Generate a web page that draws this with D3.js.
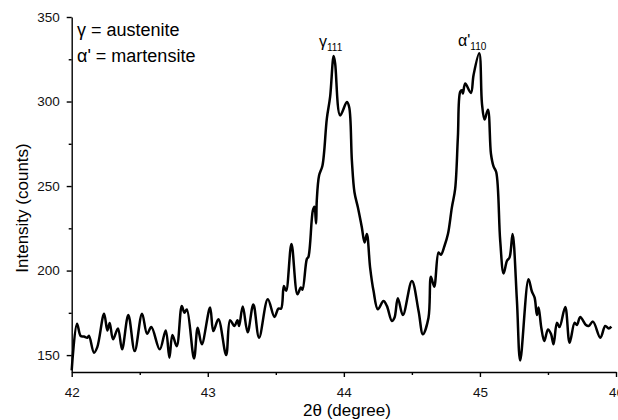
<!DOCTYPE html>
<html>
<head>
<meta charset="utf-8">
<script src="https://cdn.jsdelivr.net/npm/d3@7"></script>
<style>
  body { margin: 0; background: #fff; }
  svg { font-family: "Liberation Sans", Arial, sans-serif; }
  .axis path, .axis line { stroke: #000; stroke-width: 1.4px; }
  .axis text { font-size: 13.5px; fill: #111; }
</style>
</head>
<body>
<svg id="svg1" width="618" height="420"></svg>
<script>
// 2theta positions (degree)
var twoTheta = [
  42.000, 42.039, 42.066, 42.090, 42.115, 42.127, 42.164, 42.188, 42.238, 42.262,
  42.279, 42.304, 42.340, 42.370, 42.416, 42.463, 42.517, 42.554, 42.585, 42.647,
  42.691, 42.718, 42.740, 42.772, 42.809, 42.828, 42.846, 42.899, 42.926, 42.956,
  43.017, 43.041, 43.078, 43.135, 43.164, 43.196, 43.218, 43.230, 43.257, 43.293,
  43.335, 43.377, 43.441, 43.490, 43.519, 43.539, 43.559, 43.576, 43.615, 43.659,
  43.684, 43.696, 43.728, 43.740, 43.772, 43.784, 43.796, 43.801, 43.818, 43.843,
  43.875, 43.899, 43.925, 43.936, 43.973, 44.022, 44.039, 44.059, 44.078, 44.103,
  44.132, 44.152, 44.169, 44.193, 44.218, 44.250, 44.291, 44.316, 44.353, 44.372,
  44.397, 44.434, 44.500, 44.549, 44.581, 44.622, 44.640, 44.664, 44.696, 44.713,
  44.740, 44.765, 44.794, 44.818, 44.838, 44.855, 44.868, 44.875, 44.892, 44.934,
  44.953, 44.995, 45.015, 45.034, 45.059, 45.081, 45.100, 45.120, 45.149, 45.174,
  45.199, 45.218, 45.240, 45.272, 45.296, 45.357, 45.382, 45.402, 45.419, 45.431,
  45.451, 45.473, 45.500, 45.522, 45.541, 45.566, 45.585, 45.627, 45.659, 45.696,
  45.713, 45.737, 45.779, 45.799, 45.831, 45.885, 45.921, 45.946, 45.966
];

// intensity (counts)
var intensity = [
  141.0, 168.6, 161.3, 161.0, 160.3, 161.5, 151.4, 154.7, 174.5, 164.6,
  169.0, 159.3, 165.8, 153.4, 173.7, 152.4, 174.5, 162.6, 166.6, 153.4,
  164.6, 148.4, 161.9, 155.3, 179.1, 175.1, 177.0, 148.0, 166.2, 156.4,
  178.1, 164.2, 171.2, 150.0, 170.6, 167.2, 170.6, 167.2, 178.7, 163.5,
  180.0, 160.3, 183.0, 172.6, 177.5, 177.5, 190.9, 188.0, 215.7, 186.0,
  190.0, 188.7, 206.8, 208.2, 235.5, 237.8, 227.9, 241.4, 256.2, 262.2,
  289.9, 302.7, 327.0, 322.5, 291.8, 299.7, 296.8, 265.1, 246.3, 237.4,
  225.6, 216.6, 221.6, 201.8, 188.0, 177.1, 182.0, 179.1, 170.2, 172.1,
  183.7, 173.7, 193.9, 176.1, 162.3, 172.1, 196.3, 190.5, 210.7, 209.3,
  214.7, 221.6, 237.4, 248.3, 279.0, 305.7, 306.7, 304.7, 310.6, 305.1,
  315.6, 328.6, 298.8, 289.3, 295.2, 269.1, 261.6, 258.2, 217.7, 198.3,
  205.8, 207.8, 221.6, 182.0, 146.8, 194.9, 187.6, 184.0, 173.7, 178.1,
  166.2, 158.3, 165.2, 162.6, 156.4, 169.2, 166.6, 178.5, 157.3, 169.2,
  167.8, 172.5, 167.8, 167.2, 169.8, 160.3, 167.2, 165.8, 166.9
];

var xTicks = [42, 43, 44, 45, 46];
var xMinorTicks = [42.5, 43.5, 44.5, 45.5];
var yTicks = [150, 200, 250, 300, 350];
var yMinorTicks = [175, 225, 275, 325];

var svg = d3.select('svg');

var x = d3.scaleLinear().domain([42, 46]).range([71.7, 616]);
var y = d3.scaleLinear().domain([140, 350]).range([372, 17]);

var data = twoTheta.map(function(d, i) { return { x: d, y: intensity[i] }; });

// minor ticks first so the main axes draw on top
svg.append('g')
   .attr('class', 'axis')
   .attr('transform', 'translate(0,372)')
   .call(d3.axisBottom(x).tickValues(xMinorTicks).tickSize(3).tickFormat(''))
   .select('.domain').remove();

svg.append('g')
   .attr('class', 'axis')
   .attr('transform', 'translate(71.7,0)')
   .call(d3.axisLeft(y).tickValues(yMinorTicks).tickSize(3).tickFormat(''))
   .select('.domain').remove();

svg.append('g')
   .attr('class', 'axis')
   .attr('transform', 'translate(0,372)')
   .call(d3.axisBottom(x).tickValues(xTicks).tickSize(5).tickSizeOuter(0).tickPadding(10)
           .tickFormat(d3.format('d')));

svg.append('g')
   .attr('class', 'axis')
   .attr('transform', 'translate(71.7,0)')
   .call(d3.axisLeft(y).tickValues(yTicks).tickSize(5).tickSizeOuter(0).tickPadding(7));

var line = d3.line()
             .x(function(d) { return x(d.x); })
             .y(function(d) { return y(d.y); })
             .curve(d3.curveCatmullRom.alpha(0.5));

svg.append('path')
   .datum(data)
   .attr('fill', 'none')
   .attr('stroke', '#000')
   .attr('stroke-width', 2.5)
   .attr('stroke-linejoin', 'round')
   .attr('d', line);

// axis titles
svg.append('text')
   .attr('x', 347)
   .attr('y', 416)
   .attr('text-anchor', 'middle')
   .style('font-size', '17px')
   .text('2θ (degree)');

svg.append('text')
   .attr('transform', 'translate(28,208) rotate(-90)')
   .attr('text-anchor', 'middle')
   .style('font-size', '17px')
   .text('Intensity (counts)');

// legend text
svg.append('text')
   .attr('x', 77)
   .attr('y', 36)
   .style('font-size', '18px')
   .text('γ = austenite');

svg.append('text')
   .attr('x', 77)
   .attr('y', 62)
   .style('font-size', '18px')
   .text("α' = martensite");

// peak labels
var g1 = svg.append('text').attr('x', 319).attr('y', 47).style('font-size', '16px');
g1.append('tspan').text('γ');
g1.append('tspan').attr('dy', 4).style('font-size', '10px').text('111');

var g2 = svg.append('text').attr('x', 458).attr('y', 46).style('font-size', '16px');
g2.append('tspan').text("α'");
g2.append('tspan').attr('dy', 4).style('font-size', '10px').text('110');
</script>
</body>
</html>
